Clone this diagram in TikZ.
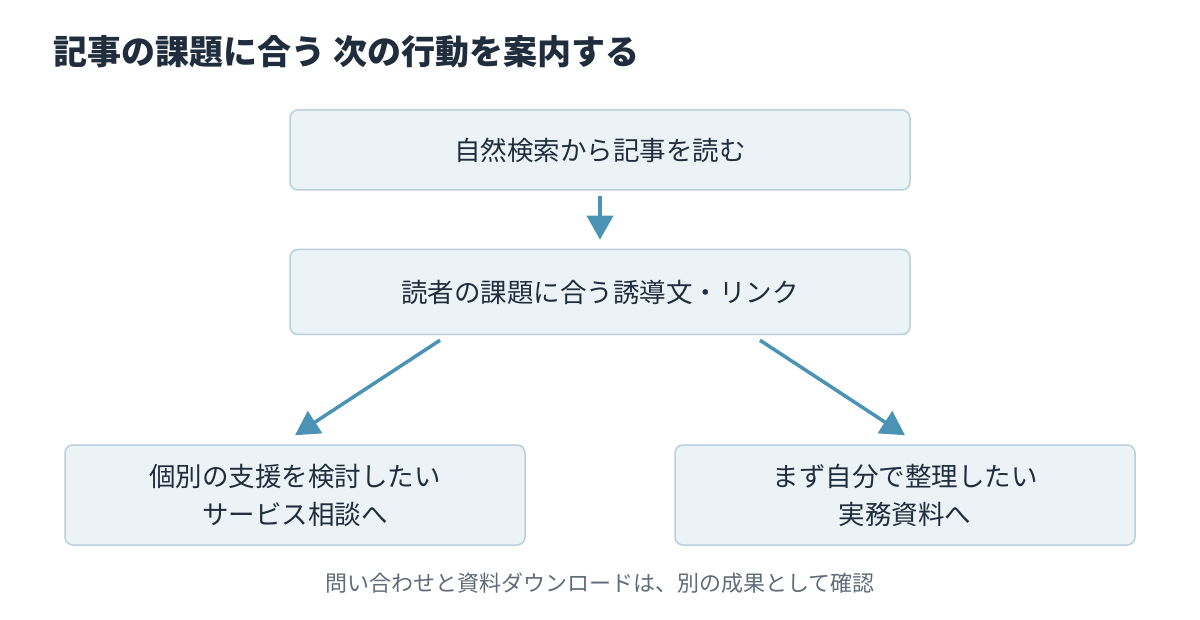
\documentclass[tikz,border=0pt]{standalone}
\usepackage{fontspec}
\setmainfont{Noto Sans CJK JP}
\usetikzlibrary{arrows.meta,positioning}
\definecolor{boxfill}{HTML}{EBF3F7}
\definecolor{boxline}{HTML}{B9CFDC}
\definecolor{ink}{HTML}{1F2D3D}
\definecolor{flow}{HTML}{4A93B4}
\definecolor{note}{HTML}{5F6B78}

\begin{document}
\begin{tikzpicture}[x=1pt, y=-1pt]
    \tikzstyle{stage} = [rectangle, rounded corners=8pt, draw=boxline, line width=1.5pt, fill=boxfill, text=ink, font=\fontsize{26.5}{38}\selectfont, align=center, inner sep=0pt]
    \tikzstyle{arrow} = [draw=flow, line width=3.5pt, -{Triangle[length=24pt,width=26pt]}]

    \useasboundingbox (0,0) rectangle (1200,620);
    \node [anchor=west, text=ink, font=\fontsize{34}{40}\selectfont\bfseries] (title) at (50,52) {記事の課題に合う 次の行動を案内する};

    \node [stage, minimum width=620pt, minimum height=80pt] (read) at (600,150) {自然検索から記事を読む};
    \node [stage, minimum width=620pt, minimum height=85pt] (guide) at (600,292) {読者の課題に合う誘導文・リンク};
    \node [stage, minimum width=460pt, minimum height=100pt] (consult) at (295,495) {個別の支援を検討したい\\サービス相談へ};
    \node [stage, minimum width=460pt, minimum height=100pt] (docs) at (905,495) {まず自分で整理したい\\実務資料へ};

    \node [text=note, font=\fontsize{22}{26}\selectfont] (foot) at (600,583) {問い合わせと資料ダウンロードは、別の成果として確認};

    \draw [arrow] ([yshift=-5pt]read.south) -- ([yshift=9pt]guide.north);
    \draw [arrow] ([xshift=-160pt,yshift=-5pt]guide.south) -- ([yshift=9pt]consult.north);
    \draw [arrow] ([xshift=160pt,yshift=-5pt]guide.south) -- ([yshift=9pt]docs.north);
\end{tikzpicture}
\end{document}
